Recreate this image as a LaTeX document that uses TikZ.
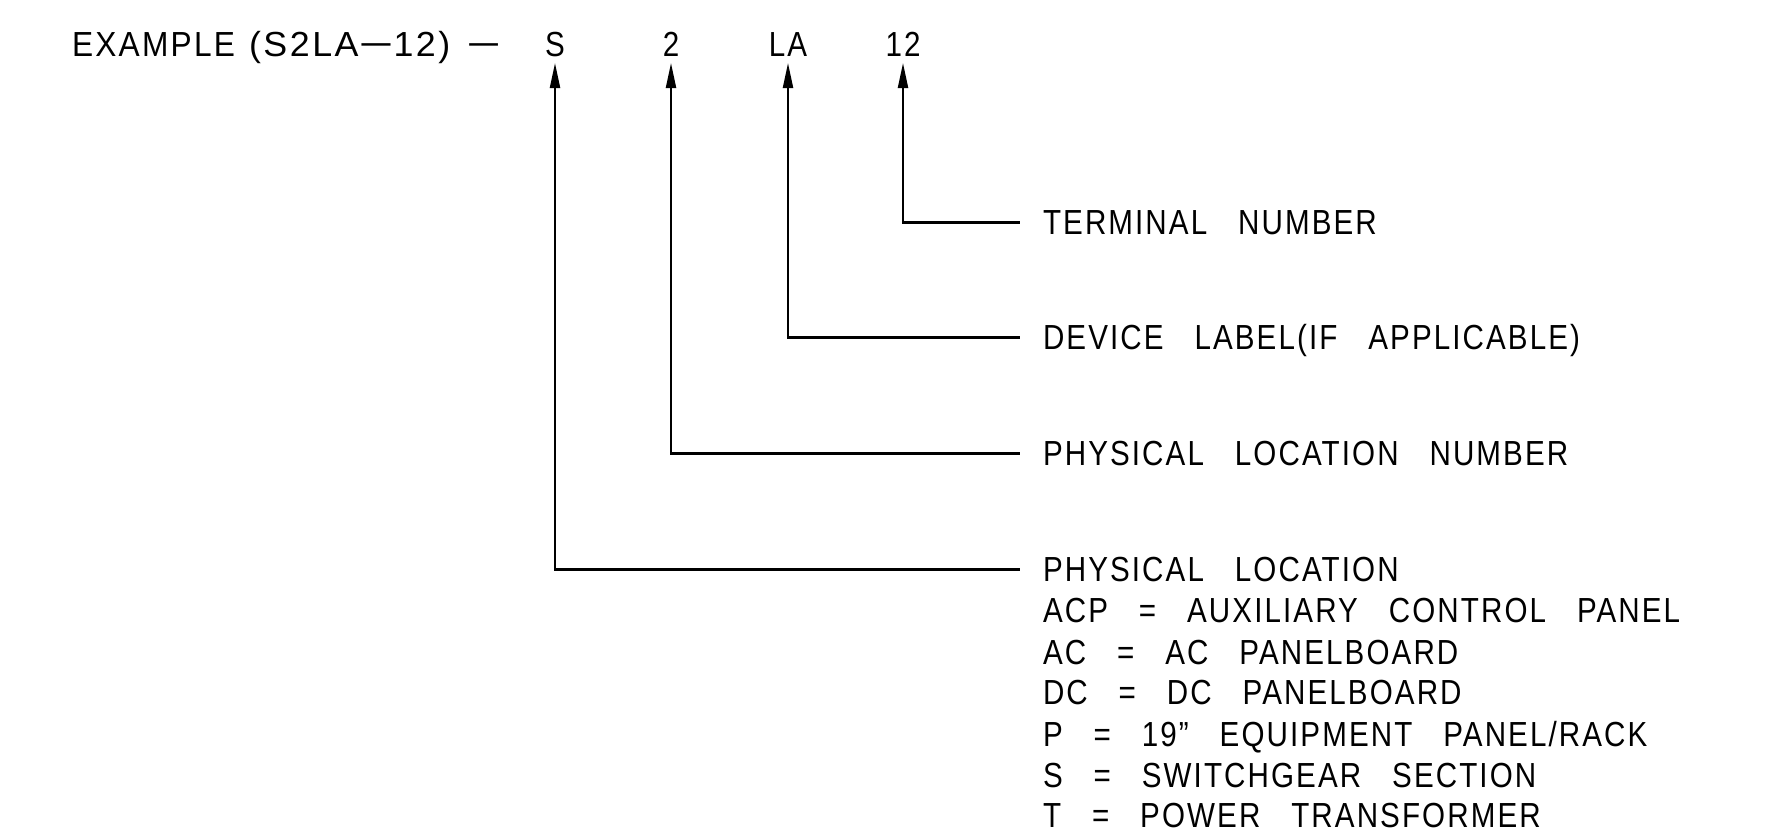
\documentclass[tikz,border=0pt]{standalone}
\usepackage{fontspec}
\setmainfont[WordSpace=3,FakeStretch=0.85,LetterSpace=6]{Liberation Sans}
\usetikzlibrary{arrows.meta}
\begin{document}
\begin{tikzpicture}[x=0.01cm,y=-0.01cm,
  txt/.style={inner sep=0pt,outer sep=0pt,text height=0.25cm,text depth=0pt,font=\fontsize{9.9}{12}\selectfont},
  conn/.style={line width=0.6pt,-{Triangle[length=0.25cm,width=0.1cm]}}]
\useasboundingbox (0,0) rectangle (1775,834);
% top line
\node[txt,anchor=base west] (ex) at (72,57) {\scalebox{1.07}[1]{EXAMPLE}\hspace{0.14cm}\scalebox{1.21}[1]{(S2LA\scalebox{1.67}[1]{−}12)}\hspace{0.16cm}\scalebox{2}[1]{−}};
\node[txt,anchor=base] (lS) at (555,57) {S};
\node[txt,anchor=base] (l2) at (671,57) {2};
\node[txt,anchor=base] (lLA) at (788,57) {LA};
\node[txt,anchor=base] (l12) at (903,57) {12};
% labels
\node[txt,anchor=base west] (tTerm) at (1043,235) {TERMINAL NUMBER};
\node[txt,anchor=base west] (tDev) at (1043,350) {DEVICE LABEL(IF APPLICABLE)};
\node[txt,anchor=base west] (tNum) at (1043,466) {PHYSICAL LOCATION NUMBER};
\node[txt,anchor=base west] (tLoc) at (1043,582) {PHYSICAL LOCATION};
\node[txt,anchor=base west] (tACP) at (1043,623) {ACP = AUXILIARY CONTROL PANEL};
\node[txt,anchor=base west] (tAC) at (1043,665) {AC = AC PANELBOARD};
\node[txt,anchor=base west] (tDC) at (1043,705) {DC = DC PANELBOARD};
\node[txt,anchor=base west] (tP) at (1043,747) {P = 19” EQUIPMENT PANEL/RACK};
\node[txt,anchor=base west] (tS) at (1043,788) {S = SWITCHGEAR SECTION};
\node[txt,anchor=base west] (tT) at (1043,828) {T = POWER TRANSFORMER};
% connectors
\draw[conn] ([xshift=-0.23cm]tTerm.west) -| ([yshift=-0.06cm]l12.south);
\draw[conn] ([xshift=-0.23cm]tDev.west) -| ([yshift=-0.06cm]lLA.south);
\draw[conn] ([xshift=-0.23cm]tNum.west) -| ([yshift=-0.06cm]l2.south);
\draw[conn] ([xshift=-0.23cm]tLoc.west) -| ([yshift=-0.06cm]lS.south);
\end{tikzpicture}
\end{document}
